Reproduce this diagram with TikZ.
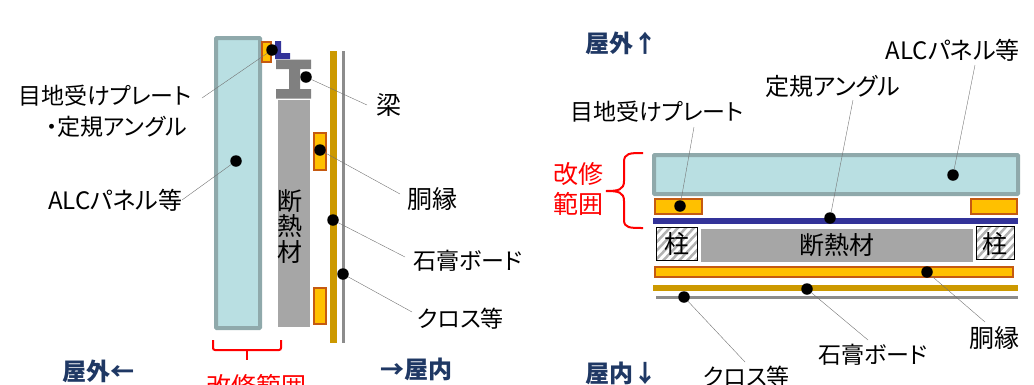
\documentclass[tikz,border=0pt]{standalone}
\usepackage{fontspec}
\setmainfont{Noto Sans CJK JP}[RawFeature=+palt]
\definecolor{panelfill}{HTML}{B9DFE2}
\definecolor{paneledge}{HTML}{8FA9AB}
\definecolor{plate}{HTML}{FFC000}
\definecolor{plateedge}{HTML}{C55A11}
\definecolor{angleblue}{HTML}{333399}
\definecolor{boardgold}{HTML}{CC9900}
\definecolor{titlenavy}{HTML}{1F3864}
\tikzset{
	panel/.style={draw=paneledge,fill=panelfill,line width=4pt,rounded corners=0.8pt},
	plate/.style={draw=plateedge,fill=plate,line width=2pt},
	dot/.style={circle,fill=black,inner sep=0pt,minimum size=11.5pt},
	leader/.style={draw=black!55,line width=0.4pt},
	lbl/.style={font=\fontsize{23}{25}\selectfont,inner sep=0pt},
	biglbl/.style={font=\fontsize{25}{27}\selectfont,inner sep=0pt},
	redlbl/.style={biglbl,text=red},
	title/.style={font=\fontsize{24}{26}\selectfont\bfseries,text=titlenavy,inner sep=0pt}
}
\begin{document}
\begin{tikzpicture}[x=1pt,y=-1pt]
	\path[use as bounding box,clip] (0,0) rectangle (1034,384);
	% left section
	\draw[panel] (216,38) rectangle (260,328);
	\draw[plate] (262,42) rectangle (271,62);
	\fill[angleblue] (275,41)--(281,41)--(281,53)--(290,53)--(290,59)--(275,59)--cycle;
	\fill[black!50] (276,59.5)--(311,59.5)--(311,69)--(300,69)--(300,89)--(311,89)--(311,98.5)--(276,98.5)--(276,89)--(289,89)--(289,69)--(276,69)--cycle;
	\fill[black!35] (278,100) rectangle (310,327);
	\fill[boardgold] (330,51) rectangle (336.5,343);
	\fill[black!45] (341.5,51) rectangle (344.5,343);
	\draw[plate] (314,133) rectangle (326,170);
	\draw[plate] (314,288) rectangle (326,324);
	\node[biglbl] (danA) at (290,201) {断};
	\node[biglbl] (danB) at (290,226) {熱};
	\node[biglbl] (danC) at (290,252) {材};
	\node[dot] (djoint) at (272,50) {};
	\node[dot] (dbeam) at (306,77) {};
	\node[dot] (dfurr) at (320,150) {};
	\node[dot] (dpanel) at (236,161) {};
	\node[dot] (dboard) at (333,220) {};
	\node[dot] (dcloth) at (343,274) {};
	\coordinate (ejoint) at (202,98);
	\coordinate (ebeam) at (367,105);
	\coordinate (efurr) at (400,194);
	\coordinate (epanel) at (182,200);
	\coordinate (eboard) at (405,257);
	\coordinate (ecloth) at (412,312);
	\foreach \a/\b in {djoint/ejoint,dbeam/ebeam,dfurr/efurr,dpanel/epanel,dboard/eboard,dcloth/ecloth}
		\draw[leader] (\a)--(\b);
	\node[lbl,anchor=west] (ljoint) at (18,96) {目地受けプレート};
	\node[lbl,anchor=east] (langle) at (187,127) {・定規アングル};
	\node[lbl,anchor=west,font=\fontsize{24}{26}\selectfont] (lpanel) at (48,200) {ALCパネル等};
	\node[biglbl,anchor=west] (lbeam) at (376,105) {梁};
	\node[biglbl,anchor=west] (lfurr) at (407,199) {胴縁};
	\node[lbl,anchor=west] (lboard) at (413,261) {石膏ボード};
	\node[lbl,anchor=west] (lcloth) at (417,319) {クロス等};
	\node[title,anchor=west] (lout) at (62,371) {屋外←};
	\node[title,anchor=west] (lin) at (380,369) {→屋内};
	\draw[red,line width=2pt,rounded corners=2pt] (213,340)--(213,350)--(281,350)--(281,340);
	\draw[red,line width=2pt] (247,350)--(247,360);
	\node[redlbl] (lrange) at (256,386) {改修範囲};
	% right section
	\draw[panel] (654,155) rectangle (1018,194);
	\draw[plate] (655,199) rectangle (702,214);
	\draw[plate] (971,199) rectangle (1017,214);
	\fill[angleblue] (653,217.5) rectangle (1018,224);
	\foreach \l/\r/\t/\b in {656/697/227.5/260,976/1014/226.5/259.5}{
		\begin{scope}
			\clip (\l,\t) rectangle (\r,\b);
			\foreach \k in {0,8,...,80}
				\draw[black!30,line width=2.5pt] (\l-5+\k-40,\b+5)--(\l-5+\k,\t-5-0);
		\end{scope}
		\draw[black,line width=1pt] (\l,\t) rectangle (\r,\b);
	}
	\fill[black!35] (701,229) rectangle (973,262);
	\draw[plate] (655,267) rectangle (1013,277);
	\fill[boardgold] (653,284.5) rectangle (1018,291);
	\fill[black!45] (656,296) rectangle (1018,299);
	\node[biglbl] (lpostA) at (677,244) {柱};
	\node[biglbl] (lpostB) at (995,244) {柱};
	\node[biglbl] (ldan) at (837,245) {断熱材};
	\node[dot] (rpanel) at (953,175) {};
	\node[dot] (rjoint) at (680,206) {};
	\node[dot] (rangle) at (830,218) {};
	\node[dot] (rfurr) at (927,272) {};
	\node[dot] (rboard) at (807,289) {};
	\node[dot] (rcloth) at (684,297) {};
	\coordinate (fpanel) at (975,65);
	\coordinate (fjoint) at (694,127);
	\coordinate (fangle) at (853,100);
	\coordinate (ffurr) at (985,322);
	\coordinate (fboard) at (868,340);
	\coordinate (fcloth) at (745,362);
	\foreach \a/\b in {rpanel/fpanel,rjoint/fjoint,rangle/fangle,rfurr/ffurr,rboard/fboard,rcloth/fcloth}
		\draw[leader] (\a)--(\b);
	\node[lbl,anchor=east,font=\fontsize{24}{26}\selectfont] (mpanel) at (1020,50) {ALCパネル等};
	\node[lbl,anchor=west,font=\fontsize{24}{26}\selectfont] (mangle) at (765,86) {定規アングル};
	\node[lbl,anchor=west] (mjoint) at (570,112) {目地受けプレート};
	\node[biglbl,anchor=east] (mfurr) at (1020,338) {胴縁};
	\node[lbl,anchor=west] (mboard) at (818,355) {石膏ボード};
	\node[lbl,anchor=west] (mcloth) at (703,377) {クロス等};
	\node[title,anchor=west] (mout) at (585,43) {屋外↑};
	\node[title,anchor=west] (min) at (585,373) {屋内↓};
	\node[redlbl] (mkai) at (578,174) {改修};
	\node[redlbl] (mhan) at (578,204) {範囲};
	\draw[red,line width=2pt] (643,153) .. controls (630,153) and (624,153) .. (624,162)--(624,181) .. controls (624,190) and (618,191) .. (606,191) .. controls (618,191) and (624,192) .. (624,201)--(624,220) .. controls (624,228) and (630,228) .. (643,228);
\end{tikzpicture}
\end{document}
